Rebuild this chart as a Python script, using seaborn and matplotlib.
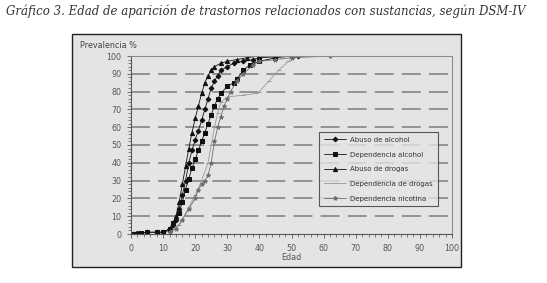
import matplotlib
matplotlib.use("Agg")
import matplotlib.pyplot as plt
import seaborn as sns
import pandas as pd
from matplotlib.patches import Rectangle
from matplotlib.ticker import MultipleLocator

# ---- data ----
series_names = ["Abuso de alcohol", "Dependencia alcohol", "Abuso de drogas",
                "Dependencia de drogas", "Dependencia nicotina"]

abuso_alcohol_age = [1, 2, 5, 8, 10, 12, 13, 14, 15, 16, 17, 18, 19, 20, 21, 22, 23, 24, 25, 26, 27, 28, 30, 32, 35, 38, 40, 45, 50, 52]
abuso_alcohol_pct = [0, 0.5, 1, 1, 1, 3, 5, 8, 14, 22, 30, 40, 47, 53, 58, 64, 70, 76, 82, 86, 89, 92, 94, 96, 97, 98, 99, 99.5, 100, 100]

dep_alcohol_age = [1, 3, 5, 8, 10, 12, 13, 15, 16, 17, 18, 19, 20, 21, 22, 23, 24, 25, 26, 27, 28, 30, 32, 33, 35, 37, 40, 45, 50]
dep_alcohol_pct = [0, 0.5, 1, 1, 1, 3, 6, 12, 18, 25, 31, 37, 42, 47, 52, 57, 62, 67, 72, 76, 79, 83, 85, 87, 92, 95, 97, 99, 100]

abuso_drogas_age = [10, 12, 14, 15, 16, 17, 18, 19, 20, 21, 22, 23, 24, 25, 26, 28, 30, 33, 36, 40]
abuso_drogas_pct = [1, 2, 10, 18, 28, 38, 48, 57, 65, 72, 79, 85, 89, 92, 94, 96, 97, 98, 99, 100]

dep_drogas_age = [12, 15, 18, 20, 22, 24, 25, 26, 27, 28, 30, 35, 39, 40, 43, 46, 49, 52]
dep_drogas_pct = [1, 5, 15, 22, 30, 40, 50, 60, 68, 74, 77, 78, 79, 80, 86, 92, 97, 100]

dep_nicotina_age = [12, 14, 16, 18, 20, 21, 22, 23, 24, 25, 26, 27, 28, 29, 30, 31, 33, 35, 38, 40, 45, 50, 62]
dep_nicotina_pct = [1, 3, 8, 14, 20, 25, 28, 30, 33, 40, 52, 60, 66, 72, 76, 80, 86, 90, 95, 97, 98, 99, 100]

title = "Gráfico 3. Edad de aparición de trastornos relacionados con sustancias, según DSM-IV"
x_ticks = [0, 10, 20, 30, 40, 50, 60, 70, 80, 90, 100]
y_ticks = [0, 10, 20, 30, 40, 50, 60, 70, 80, 90, 100]

frames = []
for name, a, p in [(series_names[0], abuso_alcohol_age, abuso_alcohol_pct),
                   (series_names[1], dep_alcohol_age, dep_alcohol_pct),
                   (series_names[2], abuso_drogas_age, abuso_drogas_pct),
                   (series_names[3], dep_drogas_age, dep_drogas_pct),
                   (series_names[4], dep_nicotina_age, dep_nicotina_pct)]:
    frames.append(pd.DataFrame({"Edad": a, "Prevalencia": p, "Serie": name}))
df = pd.concat(frames, ignore_index=True)

BG = "#e4e4e4"
palette = {series_names[0]: "#111111", series_names[1]: "#111111", series_names[2]: "#111111",
           series_names[3]: "#9a9a9a", series_names[4]: "#6e6e6e"}
markers = {series_names[0]: "D", series_names[1]: "s", series_names[2]: "^",
           series_names[3]: "_", series_names[4]: "*"}
msizes = {series_names[0]: 2.4, series_names[1]: 3.0, series_names[2]: 3.0,
          series_names[3]: 2.5, series_names[4]: 3.0}

sns.set_style("white")
plt.rcParams["font.family"] = ["DejaVu Sans"]

fig = plt.figure(figsize=(5.47, 2.83), dpi=100)
W, H = 547, 283

# outer chart box
fig.patches.append(Rectangle((72 / W, 1 - 267 / H), (461 - 72) / W, (267 - 34) / H,
                             transform=fig.transFigure, facecolor=BG,
                             edgecolor="#222222", linewidth=1.0, zorder=-5))

ax = fig.add_axes([131 / W, 1 - 234 / H, (452 - 131) / W, (234 - 56) / H])
ax.set_zorder(2)
ax.set_facecolor(BG)

for name in series_names:
    sub = df[df["Serie"] == name]
    sns.lineplot(data=sub, x="Edad", y="Prevalencia", ax=ax, color=palette[name],
                 marker=markers[name], markersize=msizes[name], linewidth=0.6,
                 markeredgecolor=palette[name], label=name, estimator=None, sort=True)

ax.set_xlim(0, 100)
ax.set_ylim(0, 100)
ax.set_xticks(x_ticks)
ax.set_yticks(y_ticks)
ax.xaxis.set_minor_locator(MultipleLocator(2))
ax.yaxis.set_minor_locator(MultipleLocator(2))
ax.tick_params(axis="both", which="major", labelsize=5.8, labelcolor="#555555",
               length=3, width=0.6, color="#555555", direction="out", pad=4)
ax.tick_params(axis="both", which="minor", length=2, width=0.5, color="#555555", direction="out")
ax.tick_params(bottom=True, left=True, which="both")

for y in y_ticks[1:-1]:
    ax.axhline(y, color="#8c8c8c", linewidth=1.3, linestyle=(0, (10.5, 4.5)), zorder=0)

for side in ["top", "right"]:
    ax.spines[side].set_color("#8c8c8c")
    ax.spines[side].set_linewidth(0.8)
for side in ["left", "bottom"]:
    ax.spines[side].set_color("#555555")
    ax.spines[side].set_linewidth(0.8)

ax.set_xlabel("")
ax.set_ylabel("")
fig.text(291 / W, 1 - 258 / H, "Edad", fontsize=5.8, color="#555555", ha="center", va="center")
fig.text(80 / W, 1 - 45 / H, "Prevalencia %", fontsize=5.8, color="#444444", ha="left", va="center")

leg = ax.legend(loc="upper left", bbox_to_anchor=((319 - 131) / 321, (234 - 132) / 178),
                fontsize=5, frameon=True, fancybox=False, borderpad=0.7,
                labelspacing=1.25, handlelength=3.2, handletextpad=0.6, borderaxespad=0)
leg.get_frame().set_facecolor(BG)
leg.get_frame().set_edgecolor("#333333")
leg.get_frame().set_linewidth(0.8)
for t in leg.get_texts():
    t.set_color("#333333")

fig.text(6 / W, 1 - 11 / H, title, fontsize=8.5, family="DejaVu Serif", style="italic",
         color="#333333", ha="left", va="center")

fig.savefig("out.png", dpi=100, facecolor="white")
